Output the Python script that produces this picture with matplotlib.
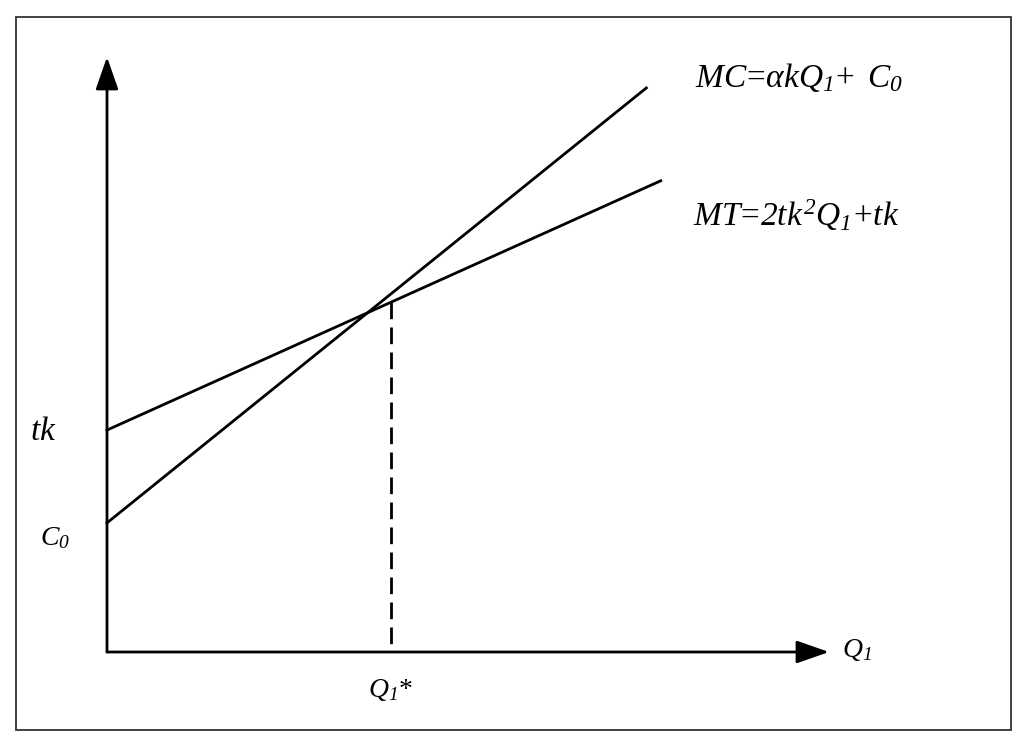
import matplotlib
matplotlib.use("Agg")
import matplotlib.pyplot as plt
from matplotlib.patches import Rectangle

plt.rcParams['font.family'] = ['Liberation Serif', 'DejaVu Serif']
plt.rcParams['mathtext.fontset'] = 'custom'
plt.rcParams['mathtext.rm'] = 'Liberation Serif'
plt.rcParams['mathtext.it'] = 'Liberation Serif:italic'
# italic digits for subscripts (mathtext sends digits in \mathit to rm)
plt.rcParams['mathtext.sf'] = 'Liberation Serif:italic'

# line end points (Q1, price) in arbitrary units
mc_q = [0, 7.47]
mc_p = [2.17, 9.48]
mt_q = [0, 7.67]
mt_p = [3.73, 7.92]
q_star = 3.93

W, H = 1024, 748
fig = plt.figure(figsize=(W / 100, H / 100), dpi=100)

# outer frame
fig.patches.append(Rectangle((15.5 / W, 1 - 730 / H), (1011 - 15.5) / W, (730 - 17) / H,
                             transform=fig.transFigure, fill=False,
                             edgecolor='#333333', linewidth=1.3))

ax = fig.add_axes([107 / W, 1 - 652 / H, (829 - 107) / W, (652 - 57) / H])
ax.set_xlim(0, 10)
ax.set_ylim(0, 10)
ax.axis('off')

arrow = dict(arrowstyle='-|>,head_length=1.0,head_width=0.35', color='black',
             lw=2.0, shrinkA=0, shrinkB=0, mutation_scale=20)
ax.annotate('', xy=(0, 10), xytext=(0, 0), arrowprops=arrow, annotation_clip=False)
ax.annotate('', xy=(10, 0), xytext=(0, 0), arrowprops=arrow, annotation_clip=False)

ax.plot(mc_q, mc_p, color='black', lw=2.0, clip_on=False)
ax.plot(mt_q, mt_p, color='black', lw=2.0, clip_on=False)

# dashed drop line, drawn from the MT line down so the dash pattern starts at the top
slope = (mt_p[1] - mt_p[0]) / (mt_q[1] - mt_q[0])
ax.plot([q_star, q_star], [mt_p[0] + slope * q_star, 0], color='black', lw=2.0,
        linestyle=(0, (6, 3)), clip_on=False)

fs = 24
fig.text(695 / W, 1 - 78 / H, r'$MC\!=\!\alpha kQ_{\mathsf{1}}\!+\ C_{\mathsf{0}}$', fontsize=fs, va='center')
fig.text(693 / W, 1 - 215 / H, r'$MT\!=\!\mathsf{2}tk^{\mathsf{2}}Q_{\mathsf{1}}\!+\!tk$', fontsize=fs, va='center')
fig.text(30 / W, 1 - 432 / H, r'$tk$', fontsize=fs, va='center')
fig.text(40 / W, 1 - 538 / H, r'$C_{\mathsf{0}}$', fontsize=20, va='center')
fig.text(368 / W, 1 - 690 / H, r'$Q_{\mathsf{1}}$*', fontsize=20, va='center')
fig.text(842 / W, 1 - 650 / H, r'$Q_{\mathsf{1}}$', fontsize=20, va='center')

fig.savefig('out.png', dpi=100)
